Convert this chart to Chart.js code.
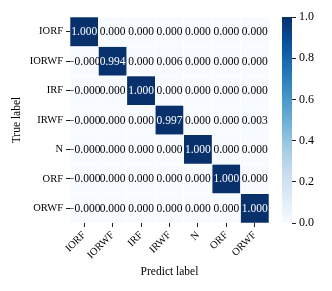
<!DOCTYPE html>
<html>
<head>
<meta charset="utf-8">
<script src="https://cdn.jsdelivr.net/npm/chart.js@4.4.1/dist/chart.umd.min.js"></script>
<style>
  body { margin: 0; background: #fff; }
  #wrap { position: relative; width: 332px; height: 291px; }
  canvas { position: absolute; left: 0; top: 0; }
</style>
</head>
<body>
<div id="wrap">
  <canvas id="heatmap" width="332" height="291"></canvas>
  <canvas id="colorbar" width="332" height="291"></canvas>
</div>
<script>
// class names, rows = true label, columns = predicted label
const trueLabels = ['IORF', 'IORWF', 'IRF', 'IRWF', 'N', 'ORF', 'ORWF'];
const predLabels = ['IORF', 'IORWF', 'IRF', 'IRWF', 'N', 'ORF', 'ORWF'];

// normalized confusion matrix rows (-0 shows up as "-0.000" in the source)
const rowIORF  = [1.000, 0.000, 0.000, 0.000, 0.000, 0.000, 0.000];
const rowIORWF = [-0,    0.994, 0.000, 0.006, 0.000, 0.000, 0.000];
const rowIRF   = [-0,    0.000, 1.000, 0.000, 0.000, 0.000, 0.000];
const rowIRWF  = [-0,    0.000, 0.000, 0.997, 0.000, 0.000, 0.003];
const rowN     = [-0,    0.000, 0.000, 0.000, 1.000, 0.000, 0.000];
const rowORF   = [-0,    0.000, 0.000, 0.000, 0.000, 1.000, 0.000];
const rowORWF  = [-0,    0.000, 0.000, 0.000, 0.000, 0.000, 1.000];
const matrix = [rowIORF, rowIORWF, rowIRF, rowIRWF, rowN, rowORF, rowORWF];

const colorbarTicks = [0.0, 0.2, 0.4, 0.6, 0.8, 1.0];

// matplotlib "Blues"
const blues = ['#f7fbff', '#deebf7', '#c6dbef', '#9ecae1', '#6baed6',
               '#4292c6', '#2171b5', '#08519c', '#08306b'];

function hexToRgb(h) {
    return [parseInt(h.slice(1, 3), 16), parseInt(h.slice(3, 5), 16), parseInt(h.slice(5, 7), 16)];
}

function bluesColor(v) {
    v = Math.max(0, Math.min(1, v));
    const pos = v * (blues.length - 1);
    const i = Math.min(Math.floor(pos), blues.length - 2);
    const t = pos - i;
    const a = hexToRgb(blues[i]), b = hexToRgb(blues[i + 1]);
    const c = a.map((x, k) => Math.round(x + (b[k] - x) * t));
    return 'rgb(' + c.join(',') + ')';
}

function fmt(v) {
    if (v < 0 || Object.is(v, -0)) return '\u2212' + Math.abs(v).toFixed(3);
    return v.toFixed(3);
}

const FONT = '"Liberation Serif", "Times New Roman", serif';
Chart.defaults.font.family = FONT;
Chart.defaults.color = '#000';

// write the value in each cell
const cellText = {
    id: 'cellText',
    afterDatasetsDraw(chart) {
        const ctx = chart.ctx;
        ctx.save();
        ctx.font = '11.5px ' + FONT;
        ctx.textAlign = 'center';
        ctx.textBaseline = 'middle';
        matrix.forEach((row, i) => {
            const meta = chart.getDatasetMeta(i);
            meta.data.forEach((el, j) => {
                const p = el.getCenterPoint();
                ctx.fillStyle = row[j] > 0.5 ? '#fff' : '#000';
                ctx.fillText(fmt(row[j]), p.x, p.y + 0.5);
            });
        });
        ctx.restore();
    }
};

const heatCtx = document.getElementById('heatmap').getContext('2d');
const heatChart = new Chart(heatCtx, {
    type: 'bar',
    data: {
        labels: predLabels,
        datasets: matrix.map((row, i) => ({
            label: trueLabels[i],
            data: row.map(() => 1),
            backgroundColor: row.map(v => bluesColor(v)),
            borderColor: '#ffffff',
            borderWidth: 0.6,
            borderSkipped: false,
            barPercentage: 1,
            categoryPercentage: 1
        }))
    },
    options: {
        responsive: false,
        animation: false,
        devicePixelRatio: 1,
        layout: {
            padding: { left: 0, top: 17, right: 63, bottom: 0 }
        },
        plugins: {
            legend: { display: false },
            tooltip: { enabled: false }
        },
        scales: {
            x: {
                stacked: true,
                border: { display: false },
                grid: {
                    offset: false,
                    drawOnChartArea: false,
                    tickLength: 4,
                    tickColor: '#222',
                    lineWidth: 1
                },
                ticks: {
                    minRotation: 45,
                    maxRotation: 45,
                    padding: 2,
                    font: { size: 10.5 }
                },
                title: {
                    display: true,
                    text: 'Predict label',
                    font: { size: 11.5 },
                    padding: { top: 0, bottom: 12 }
                },
                afterFit(scale) { scale.height = 68; }
            },
            y: {
                type: 'linear',
                stacked: true,
                reverse: true,
                min: 0,
                max: 7,
                border: { display: false },
                grid: {
                    drawOnChartArea: false,
                    tickLength: 4,
                    tickColor: '#222',
                    lineWidth: 1
                },
                afterBuildTicks(scale) {
                    scale.ticks = trueLabels.map((_, i) => ({ value: i + 0.5 }));
                },
                ticks: {
                    padding: 3,
                    font: { size: 10.5 },
                    callback: function(value, index) {
                        return trueLabels[index];
                    }
                },
                title: {
                    display: true,
                    text: 'True label',
                    font: { size: 11.5 },
                    padding: { top: 10, bottom: 0 }
                },
                afterFit(scale) { scale.width = 70; }
            }
        }
    },
    plugins: [cellText]
});

// colorbar as its own small chart
const cbCtx = document.getElementById('colorbar').getContext('2d');
const cbChart = new Chart(cbCtx, {
    type: 'bar',
    data: {
        labels: [''],
        datasets: [{
            data: [[0, 1]],
            backgroundColor: function(context) {
                const chart = context.chart;
                const y = chart.scales.y;
                if (!chart.chartArea || !y) return blues[4];
                const y0 = y.getPixelForValue(0), y1 = y.getPixelForValue(1);
                if (!isFinite(y0) || !isFinite(y1)) return blues[4];
                const g = chart.ctx.createLinearGradient(0, y0, 0, y1);
                blues.forEach((c, k) => g.addColorStop(k / (blues.length - 1), c));
                return g;
            },
            borderWidth: 0,
            barPercentage: 1,
            categoryPercentage: 1
        }]
    },
    options: {
        responsive: false,
        animation: false,
        devicePixelRatio: 1,
        layout: {
            padding: { left: 282, top: 17, right: 0, bottom: 68 }
        },
        plugins: {
            legend: { display: false },
            tooltip: { enabled: false }
        },
        scales: {
            x: { display: false },
            y: {
                position: 'right',
                min: 0,
                max: 1,
                border: { display: false },
                grid: {
                    drawOnChartArea: false,
                    tickLength: 4,
                    tickColor: '#222',
                    lineWidth: 1
                },
                afterBuildTicks(scale) {
                    scale.ticks = colorbarTicks.map(v => ({ value: v }));
                },
                ticks: {
                    padding: 3,
                    font: { size: 12 },
                    callback: function(value) {
                        return value.toFixed(1);
                    }
                },
                afterFit(scale) { scale.width = 40; }
            }
        }
    }
});
</script>
</body>
</html>
